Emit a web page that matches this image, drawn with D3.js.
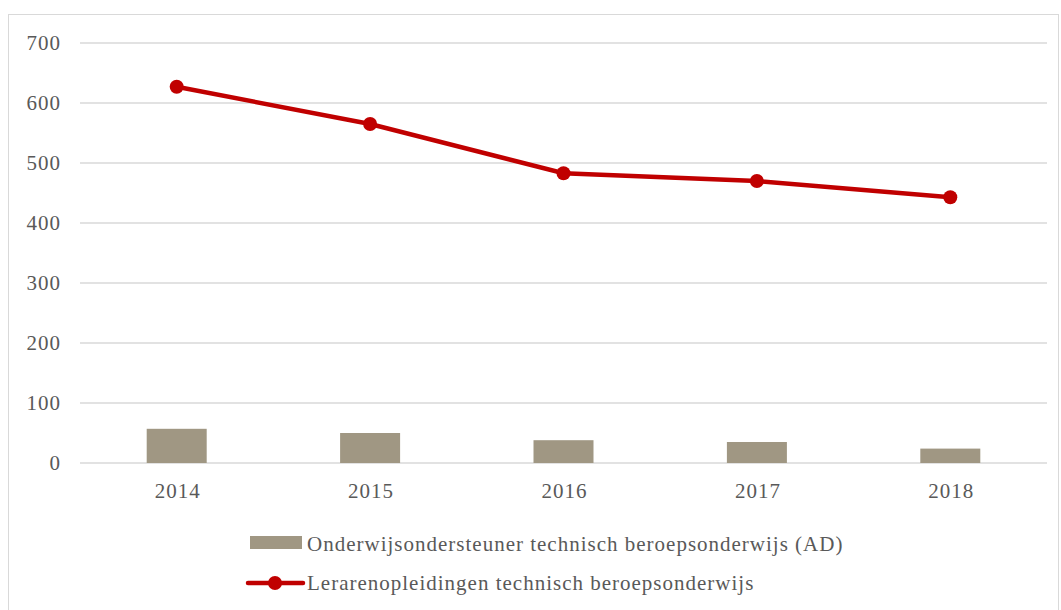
<!DOCTYPE html>
<html><head><meta charset="utf-8">
<script src="https://cdn.jsdelivr.net/npm/d3@7"></script>
<style>body{margin:0;background:#fff}svg{display:block}text{font-family:"Liberation Serif","Times New Roman",serif;fill:#595959}</style>
</head><body><svg id="c" width="1061" height="610"></svg>
<script>
const years = ["2014","2015","2016","2017","2018"];
const barValues = [57, 50, 38, 35, 24];
const lineValues = [627, 565, 483, 470, 443];
const yTicks = [0,100,200,300,400,500,600,700];
const barName = "Onderwijsondersteuner technisch beroepsonderwijs (AD)";
const lineName = "Lerarenopleidingen technisch beroepsonderwijs";

const svg = d3.select("#c");
svg.append("rect").attr("x",8.5).attr("y",14.5).attr("width",1050).attr("height",600).attr("fill","#fff").attr("stroke","#d9d9d9");
const L=80,R=1047,T=43,B=463;
const x = d3.scaleBand().domain(years).range([L,R]);
const y = d3.scaleLinear().domain([0,700]).range([B,T]);

const g = svg.append("g");
g.selectAll("line.grid").data(yTicks).join("line").attr("x1",L).attr("x2",R)
 .attr("y1",d=>y(d)).attr("y2",d=>y(d)).attr("stroke","#d9d9d9").attr("stroke-width",1.5);
g.selectAll("text.yt").data(yTicks).join("text").attr("x",61).attr("y",d=>y(d)+7)
 .attr("text-anchor","end").attr("font-size",21).attr("letter-spacing",1).text(d=>d);
g.selectAll("text.xt").data(years).join("text").attr("x",d=>x(d)+x.bandwidth()/2+1).attr("y",498)
 .attr("text-anchor","middle").attr("font-size",21).attr("letter-spacing",1).text(d=>d);

const bw=60;
g.selectAll("rect.bar").data(barValues).join("rect")
 .attr("x",(d,i)=>x(years[i])+x.bandwidth()/2-bw/2).attr("width",bw)
 .attr("y",d=>y(d)).attr("height",d=>B-y(d)).attr("fill","#a09783");

const line = d3.line().x((d,i)=>x(years[i])+x.bandwidth()/2).y(d=>y(d));
g.append("path").datum(lineValues).attr("d",line).attr("fill","none").attr("stroke","#c00000").attr("stroke-width",4.5);
g.selectAll("circle.m").data(lineValues).join("circle")
 .attr("cx",(d,i)=>x(years[i])+x.bandwidth()/2).attr("cy",d=>y(d)).attr("r",7).attr("fill","#c00000");

// legend
g.append("rect").attr("x",250).attr("y",536).attr("width",52).attr("height",13).attr("fill","#a09783");
g.append("text").attr("x",307).attr("y",551).attr("font-size",21).attr("letter-spacing",1).text(barName);
g.append("line").attr("x1",248).attr("x2",303).attr("y1",583).attr("y2",583).attr("stroke","#c00000").attr("stroke-width",4.5).attr("stroke-linecap","round");
g.append("circle").attr("cx",275).attr("cy",583).attr("r",7).attr("fill","#c00000");
g.append("text").attr("x",307).attr("y",590).attr("font-size",21).attr("letter-spacing",1).text(lineName);
</script></body></html>
